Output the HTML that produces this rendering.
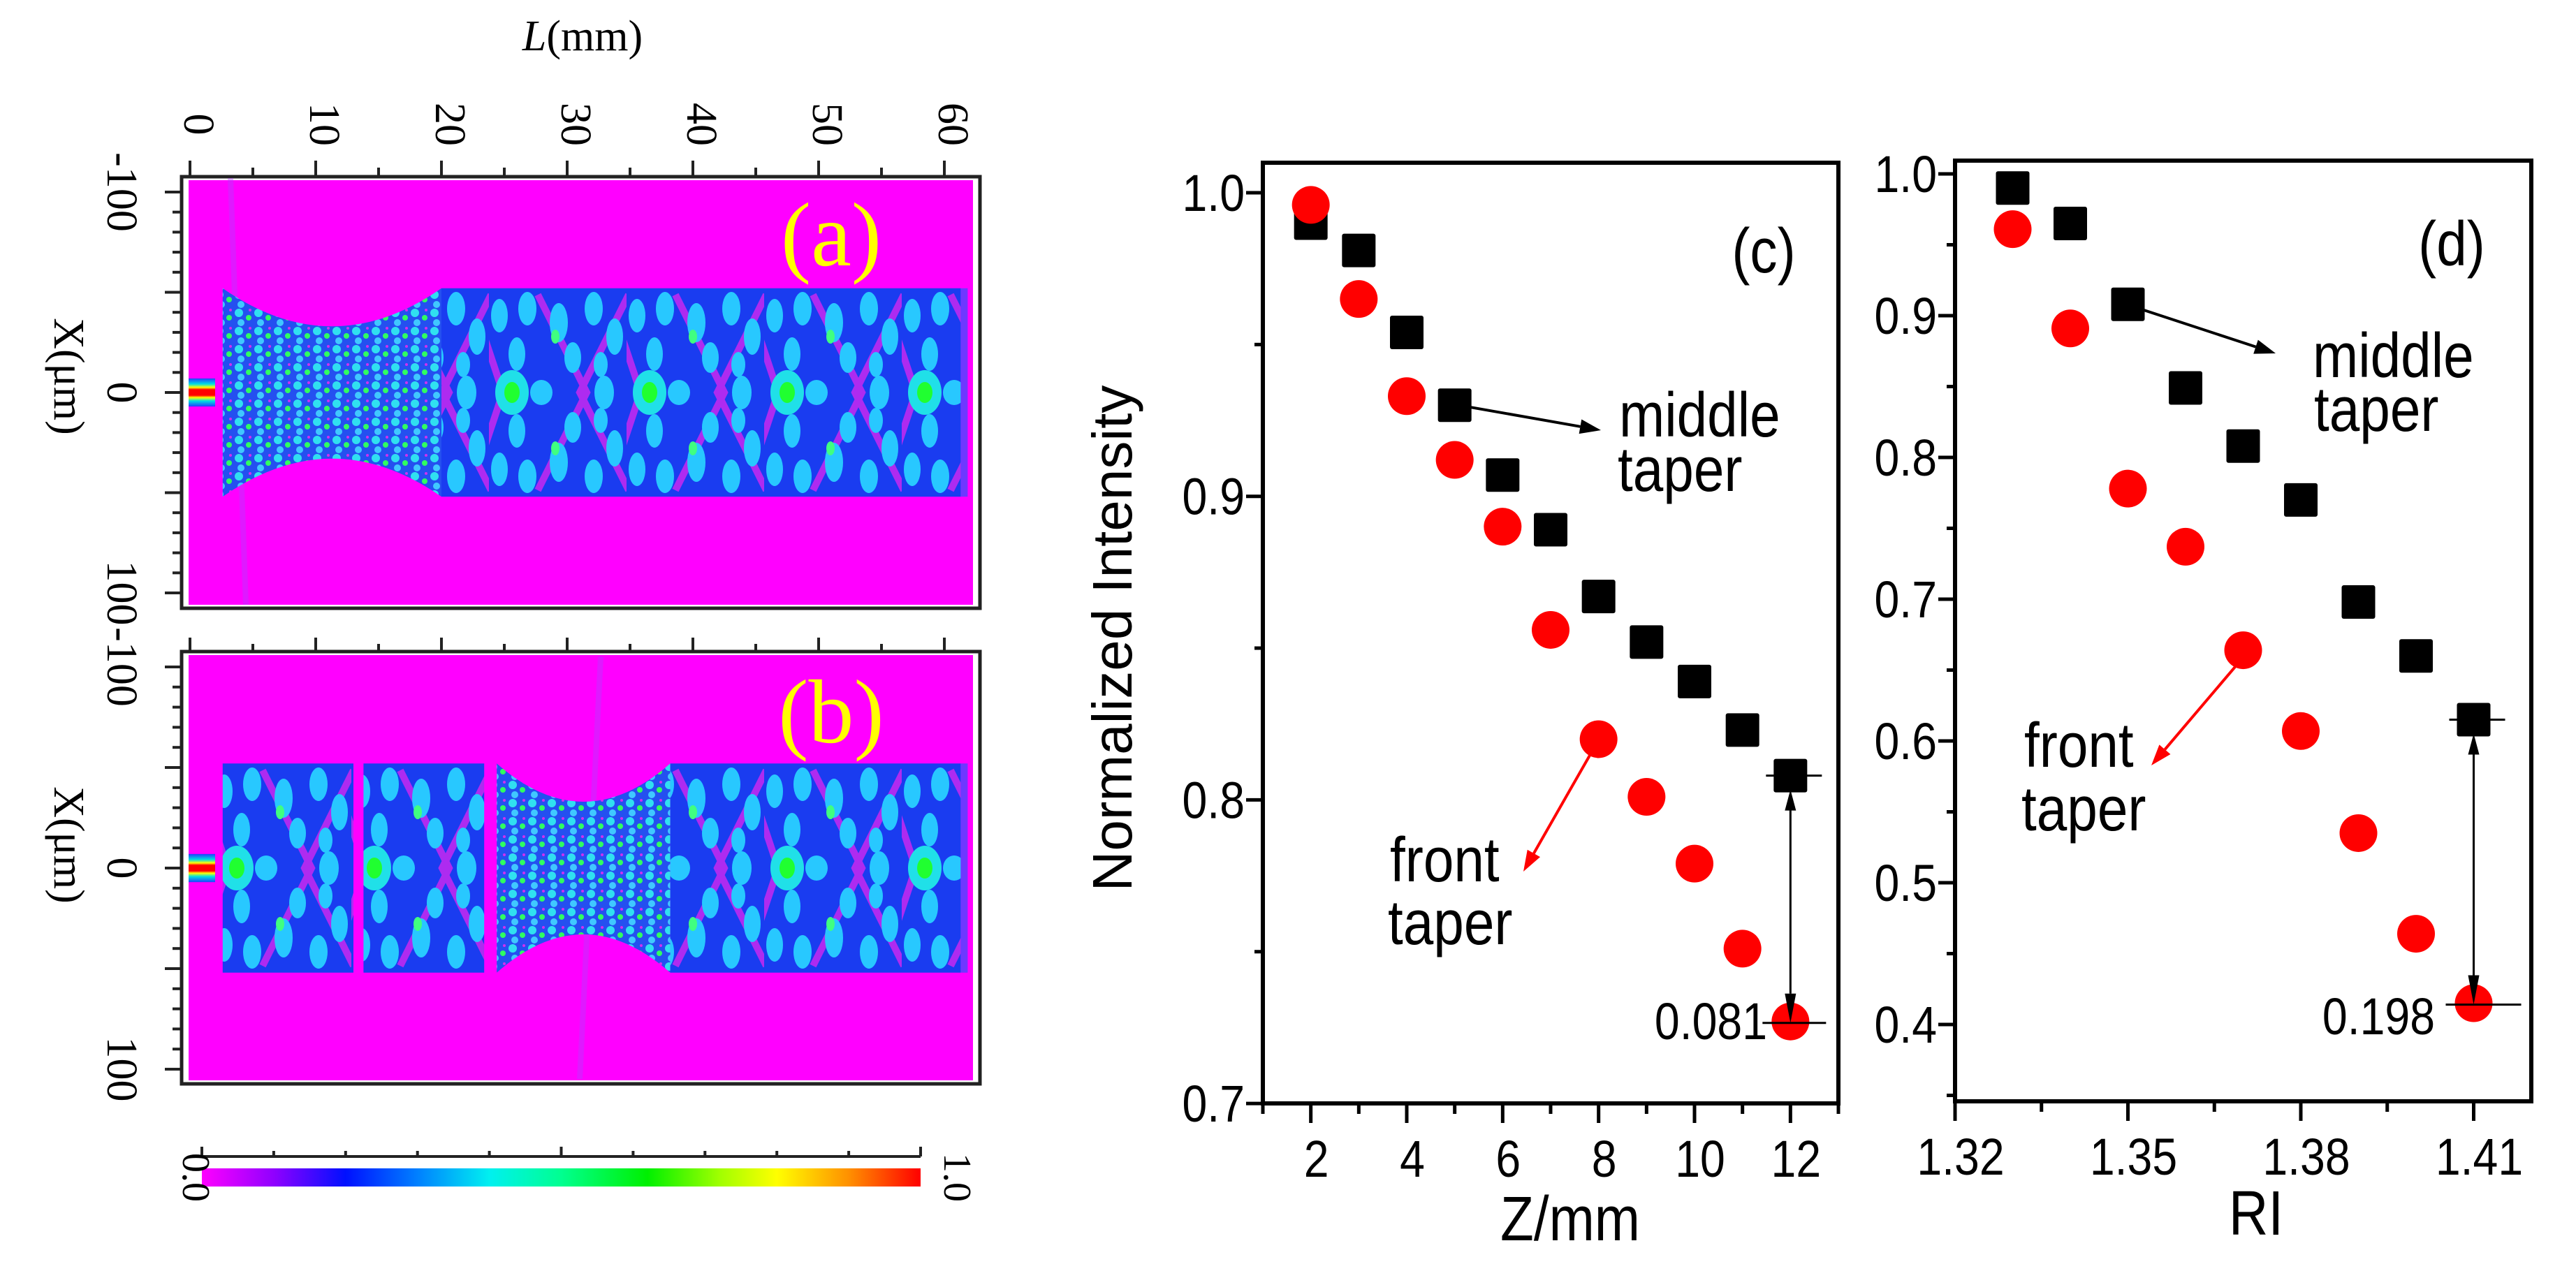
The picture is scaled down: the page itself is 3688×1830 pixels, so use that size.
<!DOCTYPE html>
<html><head><meta charset="utf-8"><title>Taper intensity figure</title>
<style>
html,body{margin:0;padding:0;background:#fff;}
svg{display:block;}
.tk{font-family:"Liberation Sans",Arial,sans-serif;font-size:74px;fill:#000;}
.ann{font-family:"Liberation Sans",Arial,sans-serif;font-size:90px;fill:#000;}
.ser{font-family:"Liberation Serif","Times New Roman",serif;fill:#000;}
.yel{font-family:"Liberation Serif","Times New Roman",serif;fill:#ffff00;}
</style></head>
<body>
<svg id="fig" width="3688" height="1830" viewBox="0 0 3688 1830" xmlns="http://www.w3.org/2000/svg">
<defs>
  <linearGradient id="cmap" x1="0" x2="1" y1="0" y2="0">
    <stop offset="0" stop-color="#ff00ff"/>
    <stop offset="0.1" stop-color="#9000ff"/>
    <stop offset="0.2" stop-color="#0010ff"/>
    <stop offset="0.3" stop-color="#0080ff"/>
    <stop offset="0.4" stop-color="#00f0f0"/>
    <stop offset="0.5" stop-color="#00ff90"/>
    <stop offset="0.62" stop-color="#00f000"/>
    <stop offset="0.72" stop-color="#a0ff00"/>
    <stop offset="0.8" stop-color="#ffff00"/>
    <stop offset="0.9" stop-color="#ff9000"/>
    <stop offset="1" stop-color="#ff0000"/>
  </linearGradient>
  <linearGradient id="beam" x1="0" x2="0" y1="0" y2="1">
    <stop offset="0" stop-color="#2040ff"/>
    <stop offset="0.2" stop-color="#00e0e0"/>
    <stop offset="0.32" stop-color="#ffff00"/>
    <stop offset="0.4" stop-color="#ff0000"/>
    <stop offset="0.6" stop-color="#ff0000"/>
    <stop offset="0.68" stop-color="#ffff00"/>
    <stop offset="0.8" stop-color="#00e0e0"/>
    <stop offset="1" stop-color="#2040ff"/>
  </linearGradient>
  <pattern id="mmA" patternUnits="userSpaceOnUse" x="700" y="412" width="197" height="300">
    <rect width="197" height="300" fill="#1a3cf0"/>
    <path d="M70 10 L140 150 L70 290 M200 10 L130 150 L200 290 M-10 60 L20 150 L-10 240" stroke="#c828f0" stroke-width="10" fill="none" opacity="0.85"/>
    <g fill="#28c8ff">
      <ellipse cx="15" cy="40" rx="12" ry="24"/><ellipse cx="55" cy="30" rx="13" ry="24"/><ellipse cx="100" cy="50" rx="13" ry="28"/>
      <ellipse cx="150" cy="30" rx="13" ry="24"/><ellipse cx="180" cy="70" rx="12" ry="26"/><ellipse cx="40" cy="95" rx="12" ry="24"/>
      <ellipse cx="120" cy="100" rx="12" ry="22"/><ellipse cx="75" cy="150" rx="16" ry="18"/><ellipse cx="165" cy="150" rx="14" ry="24"/>
      <ellipse cx="15" cy="260" rx="12" ry="24"/><ellipse cx="55" cy="270" rx="13" ry="24"/><ellipse cx="100" cy="250" rx="13" ry="28"/>
      <ellipse cx="150" cy="270" rx="13" ry="24"/><ellipse cx="180" cy="230" rx="12" ry="26"/><ellipse cx="40" cy="205" rx="12" ry="24"/>
      <ellipse cx="120" cy="200" rx="12" ry="22"/><ellipse cx="160" cy="110" rx="10" ry="18"/><ellipse cx="160" cy="190" rx="10" ry="18"/>
    </g>
    <ellipse cx="33" cy="150" rx="24" ry="32" fill="#20e0e8"/>
    <ellipse cx="33" cy="150" rx="11" ry="15" fill="#20ff30"/>
    <ellipse cx="95" cy="70" rx="6" ry="10" fill="#40ff80"/><ellipse cx="95" cy="230" rx="6" ry="10" fill="#40ff80"/>
  </pattern>
  <pattern id="mmB" href="#mmA" patternUnits="userSpaceOnUse" x="700" y="1093" width="197" height="300"></pattern>
  <pattern id="fine" patternUnits="userSpaceOnUse" width="28" height="26">
    <rect width="28" height="26" fill="#2450f0"/>
    <circle cx="6" cy="6" r="6" fill="#30e0f0"/>
    <circle cx="20" cy="13" r="4" fill="#30ff60"/>
    <circle cx="9" cy="20" r="5" fill="#40c8ff"/>
    <circle cx="22" cy="2" r="2" fill="#d030f0"/>
  </pattern>
</defs>

<!-- ===== Panels (a) and (b) ===== -->
<g id="maps">
  <text class="ser" x="834" y="72" font-size="62" text-anchor="middle"><tspan font-style="italic">L</tspan>(mm)</text>
  <g id="topTicks"></g>

  <g>
    <rect x="260" y="253" width="1143" height="618" fill="#fff" stroke="#222" stroke-width="5"/>
    <rect x="270" y="258" width="1123" height="608" fill="#ff00ff"/>
    <path d="M330 255 L352 866" stroke="#b040ff" stroke-width="8" opacity="0.4"/>
    <g id="bandA"></g>
    <text class="yel" x="1190" y="380" font-size="130" text-anchor="middle">(a)</text>
  </g>
  <g>
    <rect x="260" y="933" width="1143" height="619" fill="#fff" stroke="#222" stroke-width="5"/>
    <rect x="270" y="938" width="1123" height="609" fill="#ff00ff"/>
    <path d="M860 940 L830 1545" stroke="#b040ff" stroke-width="8" opacity="0.4"/>
    <g id="bandB"></g>
    <text class="yel" x="1190" y="1063" font-size="130" text-anchor="middle">(b)</text>
  </g>
  <g id="sideTicks"></g>
  <text class="ser" font-size="62" transform="translate(78,539) rotate(90)" text-anchor="middle">X(μm)</text>
  <text class="ser" font-size="62" transform="translate(78,1210) rotate(90)" text-anchor="middle">X(μm)</text>

  <g>
    <rect x="289" y="1673" width="1029" height="26" fill="url(#cmap)"/>
    <line x1="289" y1="1656" x2="1318" y2="1656" stroke="#222" stroke-width="4"/>
    <g id="cbTicks"></g>
    <text class="ser" font-size="56" fill="#333" transform="translate(262,1686) rotate(90)" text-anchor="middle">0.0</text>
    <text class="ser" font-size="56" fill="#333" transform="translate(1352,1686) rotate(90)" text-anchor="middle">1.0</text>
  </g>
</g>

<!-- ===== Panel (c) ===== -->
<g id="chartC"></g>
<!-- ===== Panel (d) ===== -->
<g id="chartD"></g>
</svg>

<script>
const NS = "http://www.w3.org/2000/svg";
// ---- chart (c) data ----
const zValues = [2, 3, 4, 5, 6, 7, 8, 9, 10, 11, 12];
const middleTaperC = [0.990, 0.981, 0.954, 0.930, 0.907, 0.889, 0.867, 0.852, 0.839, 0.823, 0.808];
const frontTaperC = [0.996, 0.965, 0.933, 0.912, 0.890, 0.856, 0.820, 0.801, 0.779, 0.751, 0.727];
const cXTickLabels = ["2", "4", "6", "8", "10", "12"];
const cYTickLabels = ["0.7", "0.8", "0.9", "1.0"];
const cDiffLabel = ["0.081"];
// ---- chart (d) data ----
const riValues = [1.33, 1.34, 1.35, 1.36, 1.37, 1.38, 1.39, 1.40, 1.41];
const middleTaperD = [0.990, 0.965, 0.908, 0.849, 0.808, 0.770, 0.698, 0.660, 0.615];
const frontTaperD = [0.961, 0.891, 0.778, 0.737, 0.664, 0.607, 0.535, 0.464, 0.415];
const dXTickLabels = ["1.32", "1.35", "1.38", "1.41"];
const dYTickLabels = ["0.4", "0.5", "0.6", "0.7", "0.8", "0.9", "1.0"];
const dDiffLabel = ["0.198"];
// ---- map axis labels ----
const lTickLabels = ["0", "10", "20", "30", "40", "50", "60"];
const xTickLabels = ["-100", "0", "100"];

function el(tag, attrs, parent, txt) {
  const e = document.createElementNS(NS, tag);
  for (const k in attrs) e.setAttribute(k, attrs[k]);
  if (txt !== undefined) e.textContent = txt;
  parent.appendChild(e);
  return e;
}

// ---------- maps ----------
const xL = L => 272 + 18 * L;
const yA = X => 562 + 2.87 * X;
const yB = X => 1243 + 2.88 * X;
(function () {
  const tt = document.getElementById('topTicks');
  for (let L = 0; L <= 60; L += 5) {
    const major = L % 10 === 0;
    el('line', {x1: xL(L), x2: xL(L), y1: 253, y2: major ? 230 : 240, stroke: '#222', 'stroke-width': 4}, tt);
    el('line', {x1: xL(L), x2: xL(L), y1: 933, y2: major ? 913 : 922, stroke: '#222', 'stroke-width': 4}, tt);
  }
  lTickLabels.forEach(s => {
    const t = el('text', {class: 'ser', 'font-size': 62, transform: `translate(${xL(+s) - 8},${178}) rotate(90)`, 'text-anchor': 'middle'}, tt, s);
    
    
  });
  const st = document.getElementById('sideTicks');
  [yA, yB].forEach(fy => {
    for (let X = -100; X <= 100; X += 10) {
      const major = X % 50 === 0;
      el('line', {x1: 260, x2: major ? 236 : 247, y1: fy(X), y2: fy(X), stroke: '#222', 'stroke-width': 4}, st);
    }
    xTickLabels.forEach(s => {
      const t = el('text', {class: 'ser', 'font-size': 62, transform: `translate(${154},${fy(+s)}) rotate(90)`, 'text-anchor': 'middle'}, st, s);
      
      
    });
  });
  const cb = document.getElementById('cbTicks');
  for (let i = 0; i <= 10; i++) {
    const x = 289 + i * 102.9;
    el('line', {x1: x, x2: x, y1: 1656, y2: (i === 0 || i === 5 || i === 10) ? 1642 : 1648, stroke: '#222', 'stroke-width': 4}, cb);
  }
  function band(g, fy, pat, segs) {
    el('rect', {x: 270, y: fy(-7), width: xL(2.0) - 270, height: fy(7) - fy(-7), fill: 'url(#beam)'}, g);
    segs.forEach(s => {
      let d;
      if (s.type === 'rect') {
        d = `M${xL(s.a)} ${fy(-52)} L${xL(s.b)} ${fy(-52)} L${xL(s.b)} ${fy(52)} L${xL(s.a)} ${fy(52)} Z`;
        el('path', {d: d, fill: `url(#${pat})`}, g);
      } else {
        const m = (s.a + s.b) / 2;
        d = `M${xL(s.a)} ${fy(-52)} Q${xL(m)} ${fy(-14)} ${xL(s.b)} ${fy(-52)} L${xL(s.b)} ${fy(52)} Q${xL(m)} ${fy(14)} ${xL(s.a)} ${fy(52)} Z`;
        el('path', {d: d, fill: 'url(#fine)'}, g);
      }
    });
    el('rect', {x: xL(61.3), y: fy(-52), width: 10, height: fy(52) - fy(-52), fill: '#3050ff', opacity: 0.7}, g);
  }
  band(document.getElementById('bandA'), yA, 'mmA', [{type: 'taper', a: 2.6, b: 20}, {type: 'rect', a: 20, b: 61.3}]);
  band(document.getElementById('bandB'), yB, 'mmB', [{type: 'rect', a: 2.6, b: 13.0}, {type: 'rect', a: 13.8, b: 23.4}, {type: 'taper', a: 24.4, b: 38.2}, {type: 'rect', a: 38.2, b: 61.3}]);
})();

// ---------- scatter charts ----------
function arrow(g, x1, y1, x2, y2, color, w, head) {
  const ang = Math.atan2(y2 - y1, x2 - x1);
  const hx = x2 - head * Math.cos(ang), hy = y2 - head * Math.sin(ang);
  el('line', {x1: x1, y1: y1, x2: hx, y2: hy, stroke: color, 'stroke-width': w}, g);
  const px = Math.sin(ang) * head * 0.35, py = -Math.cos(ang) * head * 0.35;
  el('polygon', {points: `${x2},${y2} ${hx + px},${hy + py} ${hx - px},${hy - py}`, fill: color}, g);
}
function txt(g, x, y, s, cls, anchor, sx) {
  return el('text', {class: cls, transform: `translate(${x},${y}) scale(${sx},1)`, 'text-anchor': anchor}, g, s);
}

function drawChart(cfg) {
  const g = document.getElementById(cfg.id);
  const {L, R, T, B} = cfg.frame;
  const fx = v => L + (v - cfg.x0) / (cfg.x1 - cfg.x0) * (R - L);
  const fy = v => cfg.yTop + (1 - v) * cfg.yUnit;
  cfg.yMajor.forEach((v, i) => {
    el('line', {x1: L, x2: L - 24, y1: fy(v), y2: fy(v), stroke: '#000', 'stroke-width': 5}, g);
    const t = txt(g, L - 26, fy(v) + 26, cfg.yLabels[i], 'tk', 'end', 0.87);
    
    
  });
  cfg.yMinor.forEach(v => el('line', {x1: L, x2: L - 12, y1: fy(v), y2: fy(v), stroke: '#000', 'stroke-width': 5}, g));
  cfg.xMajor.forEach((v, i) => {
    el('line', {x1: fx(v), x2: fx(v), y1: B, y2: B + 28, stroke: '#000', 'stroke-width': 5}, g);
    const t = txt(g, fx(v) + 8, B + 105, cfg.xLabels[i], 'tk', 'middle', 0.87);
    
    
  });
  cfg.xMinor.forEach(v => el('line', {x1: fx(v), x2: fx(v), y1: B, y2: B + 15, stroke: '#000', 'stroke-width': 5}, g));
  const f = el('rect', {x: L, y: T, width: R - L, height: B - T, fill: 'none', stroke: '#000', 'stroke-width': 6}, g);
  
  
  cfg.xs.forEach((x, i) => {
    const s = el('rect', {x: fx(x) - 24, y: fy(cfg.sq[i]) - 24, width: 48, height: 48, rx: 3, fill: '#000'}, g);
    
    
  });
  cfg.xs.forEach((x, i) => {
    const c = el('circle', {cx: fx(x), cy: fy(cfg.ci[i]), r: 27, fill: '#ff0000'}, g);
    
    
  });
  const n = cfg.xs.length - 1;
  const xe = fx(cfg.xs[n]);
  const ys = fy(cfg.sq[n]), yc = fy(cfg.ci[n]);
  el('line', {x1: xe - 35, x2: xe + 45, y1: ys, y2: ys, stroke: '#000', 'stroke-width': 3}, g);
  el('line', {x1: xe - 40, x2: xe + 85 * cfg.hl, y1: yc + 2, y2: yc + 2, stroke: '#000', 'stroke-width': 3}, g);
  el('line', {x1: xe, x2: xe, y1: ys + 45, y2: yc - 40, stroke: '#000', 'stroke-width': 3}, g);
  el('polygon', {points: `${xe},${ys + 20} ${xe - 8},${ys + 50} ${xe + 8},${ys + 50}`, fill: '#000'}, g);
  el('polygon', {points: `${xe},${yc + 2} ${xe - 8},${yc - 40} ${xe + 8},${yc - 40}`, fill: '#000'}, g);
  const dl = txt(g, cfg.diffPos[0], cfg.diffPos[1], cfg.diffLabel[0], 'tk', 'end', 0.87);
  dl.setAttribute('font-size', '84');
  
  
  return {g, fx, fy};
}

(function () {
  const c = drawChart({
    id: 'chartC', frame: {L: 1808, R: 2632, T: 233, B: 1580}, x0: 1, x1: 13, yTop: 276, yUnit: 4347,
    yMajor: [0.7, 0.8, 0.9, 1.0], yLabels: cYTickLabels, yMinor: [0.75, 0.85, 0.95],
    xMajor: [2, 4, 6, 8, 10, 12], xLabels: cXTickLabels, xMinor: [1, 3, 5, 7, 9, 11, 13],
    xs: zValues, sq: middleTaperC, ci: frontTaperC, diffPos: [2530, 1488], hl: 0.6, diffLabel: cDiffLabel
  });
  const g = c.g;
  arrow(g, c.fx(5) + 18, c.fy(0.930) + 2, 2292, 616, '#000', 4, 30);
  txt(g, 2318, 625, 'middle', 'ann', 'start', 0.87);
  txt(g, 2316, 703, 'taper', 'ann', 'start', 0.87);
  arrow(g, c.fx(8) - 12, c.fy(0.820) + 22, 2181, 1248, '#ff0000', 4, 30);
  txt(g, 1990, 1262, 'front', 'ann', 'start', 0.87);
  txt(g, 1987, 1352, 'taper', 'ann', 'start', 0.87);
  const lab = txt(g, 2525, 390, '(c)', 'ann', 'middle', 0.87);
  lab.setAttribute('font-size', '110');
  
  
  const yt = el('text', {class: 'tk', transform: 'translate(1620,914) rotate(-90)', 'text-anchor': 'middle'}, g, 'Normalized Intensity');
  yt.setAttribute('style', 'font-size:80px');
  
  
  const xt = txt(g, 2248, 1776, 'Z/mm', 'ann', 'middle', 0.87);
  
  

  const d = drawChart({
    id: 'chartD', frame: {L: 2799, R: 3624, T: 230, B: 1577}, x0: 1.32, x1: 1.42, yTop: 249, yUnit: 2030,
    yMajor: [0.4, 0.5, 0.6, 0.7, 0.8, 0.9, 1.0], yLabels: dYTickLabels, yMinor: [0.35, 0.45, 0.55, 0.65, 0.75, 0.85, 0.95],
    xMajor: [1.32, 1.35, 1.38, 1.41], xLabels: dXTickLabels, xMinor: [1.335, 1.365, 1.395],
    xs: riValues, sq: middleTaperD, ci: frontTaperD, diffPos: [3486, 1481], hl: 0.8, diffLabel: dDiffLabel
  });
  const h = d.g;
  arrow(h, d.fx(1.35) + 22, d.fy(0.908) + 8, 3258, 506, '#000', 4, 30);
  txt(h, 3311, 540, 'middle', 'ann', 'start', 0.87);
  txt(h, 3313, 617, 'taper', 'ann', 'start', 0.87);
  arrow(h, d.fx(1.37) - 10, d.fy(0.664) + 22, 3080, 1096, '#ff0000', 4, 30);
  txt(h, 2898, 1098, 'front', 'ann', 'start', 0.87);
  txt(h, 2894, 1189, 'taper', 'ann', 'start', 0.87);
  const ld = txt(h, 3510, 380, '(d)', 'ann', 'middle', 0.87);
  ld.setAttribute('font-size', '110');
  
  
  const rt = txt(h, 3230, 1768, 'RI', 'ann', 'middle', 0.87);
  
  
})();
</script>
</body></html>
